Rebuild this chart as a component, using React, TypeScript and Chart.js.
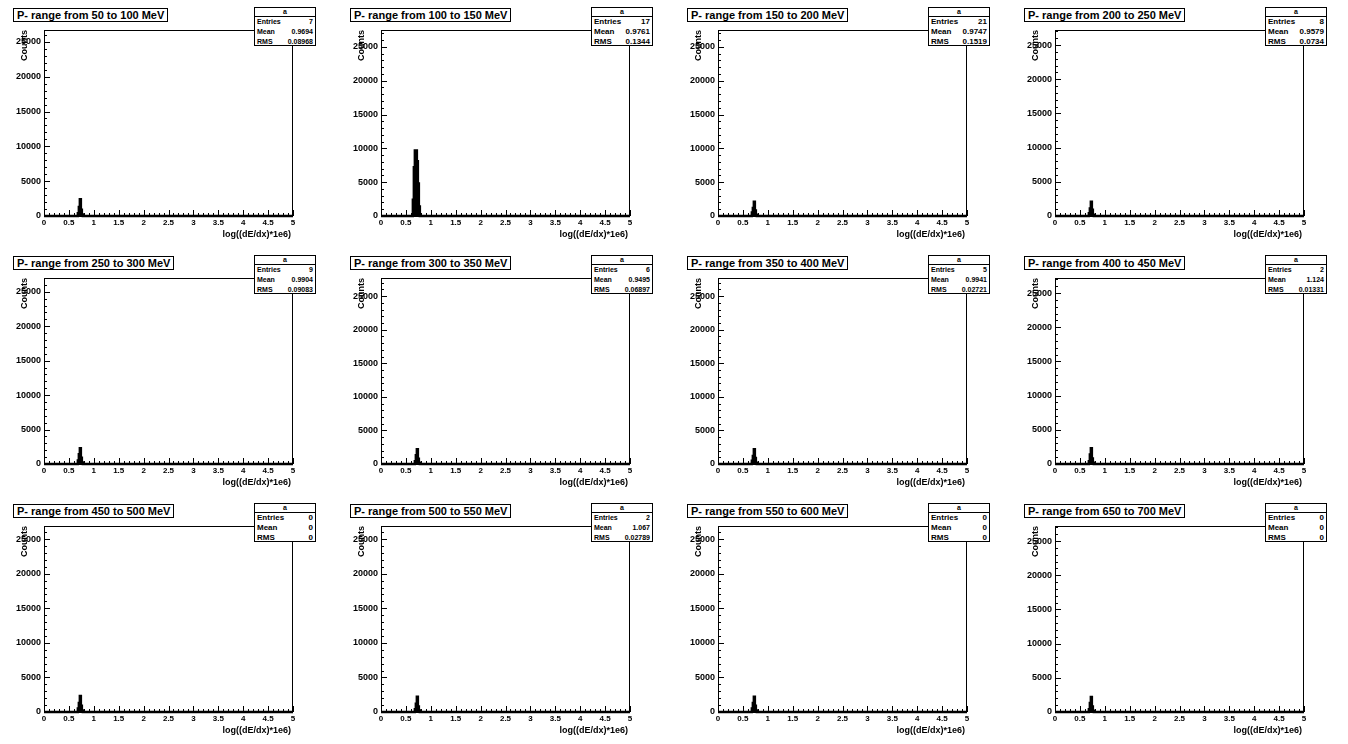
import { useEffect, useRef } from "react";
import { Chart, registerables } from "chart.js";

Chart.register(...registerables);

// Momentum window of each histogram (MeV)
const momentumRanges = [
  "50 to 100", "100 to 150", "150 to 200", "200 to 250",
  "250 to 300", "300 to 350", "350 to 400", "400 to 450",
  "450 to 500", "500 to 550", "550 to 600", "650 to 700",
];

// Stats box contents
const statEntries = ["7", "17", "21", "8", "9", "6", "5", "2", "0", "2", "0", "0"];
const statMeans = ["0.9694", "0.9761", "0.9747", "0.9579", "0.9904", "0.9495", "0.9941", "1.124", "0", "1.067", "0", "0"];
const statRms = ["0.08968", "0.1344", "0.1519", "0.0734", "0.09083", "0.06897", "0.02721", "0.01331", "0", "0.02789", "0", "0"];

// Lower edges of the populated bins of log((dE/dx)*1e6)
const binLowEdges = [0.64, 0.66, 0.68, 0.7, 0.72, 0.74, 0.76];
const binWidth = 0.02;

// Counts in those bins, one row per histogram
const binCounts = [
  [0, 0, 400, 1300, 2400, 900, 200],
  [2400, 7200, 9700, 9700, 8100, 4800, 1400],
  [0, 0, 500, 1200, 2100, 800, 200],
  [0, 0, 400, 1100, 2100, 900, 200],
  [0, 0, 500, 1400, 2300, 900, 200],
  [0, 0, 400, 1300, 2200, 800, 200],
  [0, 0, 500, 1200, 2200, 900, 200],
  [0, 0, 400, 1400, 2300, 800, 200],
  [0, 0, 500, 1300, 2300, 900, 200],
  [0, 0, 400, 1200, 2200, 800, 200],
  [0, 0, 500, 1300, 2200, 900, 200],
  [0, 0, 400, 1300, 2200, 800, 200],
];

// Upper end of the Counts axis of each pad
const yAxisMax = [26700, 27500, 27500, 27200, 27000, 27700, 27700, 27200, 26900, 26900, 26900, 27200];

// Labelled tick values
const xTickValues = [0, 0.5, 1, 1.5, 2, 2.5, 3, 3.5, 4, 4.5, 5];
const yTickValues = [0, 5000, 10000, 15000, 20000, 25000];

const xRange = [0, 5];

const FONT = "'Liberation Sans', Arial, Helvetica, sans-serif";
const PAD_W = 337;
const PAD_H = 248;

// Frame, inward tick marks and axis titles drawn in ROOT style
const rootFramePlugin = {
  id: "rootFrame",
  afterDatasetsDraw(chart: any) {
    const { ctx, chartArea: a, scales } = chart;
    const xs = scales.x;
    const ys = scales.y;
    ctx.save();
    ctx.strokeStyle = "#000";
    ctx.lineWidth = 1;
    ctx.strokeRect(a.left + 0.5, a.top + 0.5, a.right - a.left - 1, a.bottom - a.top);

    ctx.beginPath();
    const nx = Math.round((xRange[1] - xRange[0]) * 10);
    for (let i = 0; i <= nx; i++) {
      const px = Math.round(xs.getPixelForValue(xRange[0] + i / 10)) + 0.5;
      const len = i % 5 === 0 ? 6 : 3;
      ctx.moveTo(px, a.bottom);
      ctx.lineTo(px, a.bottom - len);
    }
    const ny = Math.floor(ys.max / 1000);
    for (let i = 0; i <= ny; i++) {
      const py = Math.round(ys.getPixelForValue(i * 1000)) + 0.5;
      const len = i % 5 === 0 ? 6 : 3;
      ctx.moveTo(a.left, py);
      ctx.lineTo(a.left + len, py);
    }
    ctx.stroke();

    ctx.fillStyle = "#000";
    ctx.font = `bold 9px ${FONT}`;
    ctx.textAlign = "right";
    ctx.textBaseline = "alphabetic";
    ctx.fillText("log((dE/dx)*1e6)", a.right - 2, a.bottom + 21);

    ctx.translate(27, a.top);
    ctx.rotate(-Math.PI / 2);
    ctx.textAlign = "right";
    ctx.fillText("Counts", 0, 0);
    ctx.restore();
  },
};

function histogramPoints(counts: number[]) {
  const pts = [{ x: xRange[0], y: 0 }];
  binLowEdges.forEach((edge, i) => pts.push({ x: edge, y: counts[i] }));
  pts.push({ x: binLowEdges[binLowEdges.length - 1] + binWidth, y: 0 });
  pts.push({ x: xRange[1], y: 0 });
  return pts;
}

function Pad({ index }: { index: number }) {
  const ref = useRef<HTMLCanvasElement | null>(null);

  useEffect(() => {
    if (!ref.current) return;
    const chart = new Chart(ref.current, {
      type: "line",
      data: {
        datasets: [
          {
            data: histogramPoints(binCounts[index]),
            stepped: "before",
            borderColor: "#000",
            backgroundColor: "#000",
            borderWidth: 2.5,
            fill: "origin",
            pointRadius: 0,
            tension: 0,
            clip: 2,
          },
        ],
      },
      plugins: [rootFramePlugin],
      options: {
        animation: false,
        responsive: false,
        devicePixelRatio: 1,
        layout: { padding: { top: 30, right: 44, left: 0, bottom: 0 } },
        plugins: { legend: { display: false }, tooltip: { enabled: false }, title: { display: false } },
        scales: {
          x: {
            type: "linear",
            min: xRange[0],
            max: xRange[1],
            grid: { display: false, drawTicks: false },
            border: { display: false },
            afterFit: (s: any) => { s.height = 32; },
            afterBuildTicks: (s: any) => {
              s.ticks = xTickValues.map((v) => ({ value: v }));
            },
            ticks: {
              padding: 2,
              maxRotation: 0,
              autoSkip: false,
              color: "#000",
              font: { family: FONT, size: 8, weight: "bold" },
              callback: (v: any) => String(v),
            },
          },
          y: {
            type: "linear",
            min: 0,
            max: yAxisMax[index],
            grid: { display: false, drawTicks: false },
            border: { display: false },
            afterFit: (s: any) => { s.width = 44; },
            afterBuildTicks: (s: any) => {
              s.ticks = yTickValues.map((v) => ({ value: v }));
            },
            ticks: {
              padding: 3,
              autoSkip: false,
              color: "#000",
              font: { family: FONT, size: 9, weight: "bold" },
              callback: (v: any) => String(v),
            },
          },
        },
      },
    } as any);
    return () => chart.destroy();
  }, [index]);

  const col = index % 4;
  const row = Math.floor(index / 4);
  const statSize = statRms[index].length > 6 ? 7 : 8;
  const rowStyle: any = {
    display: "flex",
    justifyContent: "space-between",
    padding: "0 2px",
    height: 10,
    lineHeight: "10px",
    fontSize: statSize,
  };

  return (
    <div style={{ position: "absolute", left: col * PAD_W, top: row * PAD_H, width: PAD_W, height: PAD_H }}>
      <canvas ref={ref} width={PAD_W} height={PAD_H} style={{ display: "block", width: PAD_W, height: PAD_H }} />
      <div
        style={{
          position: "absolute", left: 13, top: 8, border: "1px solid #000", background: "#fff",
          font: `bold 11px ${FONT}`, lineHeight: "12px", padding: "0 3px", whiteSpace: "nowrap", color: "#000",
        }}
      >
        {`P- range from ${momentumRanges[index]} MeV`}
      </div>
      <div
        style={{
          position: "absolute", left: 254, top: 7, width: 62, height: 39, boxSizing: "border-box",
          border: "1px solid #000", background: "#fff", fontFamily: FONT, fontWeight: "bold", color: "#000",
        }}
      >
        <div style={{ height: 8, lineHeight: "8px", borderBottom: "1px solid #000", textAlign: "center", fontSize: 7 }}>a</div>
        <div style={rowStyle}><span>Entries</span><span>{statEntries[index]}</span></div>
        <div style={rowStyle}><span>Mean</span><span>{statMeans[index]}</span></div>
        <div style={rowStyle}><span>RMS</span><span>{statRms[index]}</span></div>
      </div>
    </div>
  );
}

export default function App() {
  return (
    <div style={{ position: "absolute", left: 0, top: 0, width: 1348, height: 744, background: "#fff", overflow: "hidden" }}>
      {momentumRanges.map((_, i) => (
        <Pad key={i} index={i} />
      ))}
    </div>
  );
}
